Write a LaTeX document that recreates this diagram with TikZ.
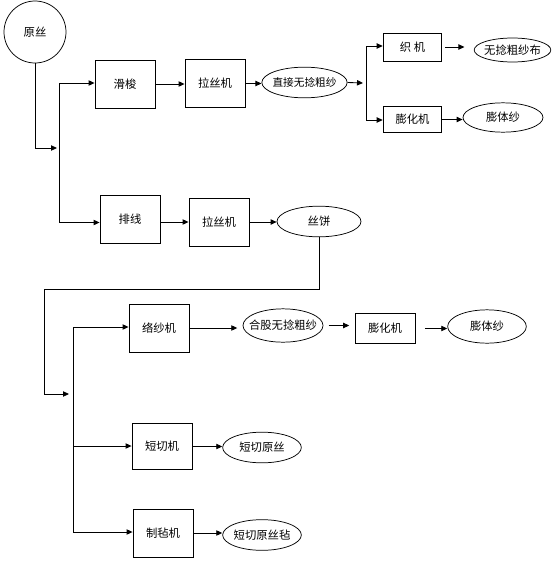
\documentclass[tikz,border=0pt]{standalone}
\usepackage{fontspec}
\setmainfont{Noto Sans CJK SC}
\usetikzlibrary{shapes.geometric,arrows.meta}

\newcommand{\ptext}[1]{\makebox[0pt]{#1}}

\tikzset{
  proc/.style={draw, line width=0.65pt, minimum width=45pt, minimum height=36pt, inner sep=0pt},
  prod/.style={draw, ellipse, line width=0.55pt, inner sep=0pt, minimum width=60pt, minimum height=24pt},
  flow/.style={line width=0.65pt, -{Triangle[length=4.5pt,width=4pt]}},
  link/.style={line width=0.65pt},
}

\begin{document}
\begin{tikzpicture}[x=0.75pt,y=0.75pt,yscale=-1,xscale=1, font=\fontsize{8.5pt}{10pt}\selectfont]
\useasboundingbox (0,0) rectangle (560,564);

%Shape: Circle
\node [draw, circle, line width=0.55pt, minimum size=46.5pt, inner sep=0pt] (yuansi) at (35,32) {原丝};

%Shape: Rectangle
\node [proc] (huasuo) at (125,84) {滑梭};
\node [proc] (lasi1) at (215,83.5) {拉丝机};
\node [proc, minimum width=44pt, minimum height=21pt] (zhiji) at (412.5,47) {织 机};
\node [proc, minimum width=44pt, minimum height=20pt] (penghua1) at (412.5,119.5) {膨化机};
\node [proc] (paixian) at (130,219.5) {排线};
\node [proc] (lasi2) at (219,222) {拉丝机};
\node [proc] (luosha) at (159,328) {络纱机};
\node [proc, minimum height=22pt] (penghua2) at (385,328.5) {膨化机};
\node [proc, minimum height=35pt] (duanqie) at (162,446.5) {短切机};
\node [proc] (zhizhan) at (163,533) {制毡机};

%Shape: Ellipse
\node [prod, minimum width=64pt, minimum height=23pt, font=\fontsize{8pt}{9pt}\selectfont] (zhijie) at (304.5,82.5) {\ptext{直接无捻粗纱}};
\node [prod, minimum width=57.5pt, minimum height=18pt] (bu) at (512.5,50) {\ptext{无捻粗纱布}};
\node [prod, minimum width=60pt, minimum height=22pt] (pengti1) at (503,117.5) {\ptext{膨体纱}};
\node [prod, minimum width=63pt, minimum height=23pt] (sibing) at (319,221.5) {丝饼};
\node [prod, minimum width=60pt, minimum height=25pt] (hegu) at (283,325.5) {\ptext{合股无捻粗纱}};
\node [prod, minimum width=59pt, minimum height=25pt] (pengti2) at (487,326.5) {\ptext{膨体纱}};
\node [prod, minimum width=59pt, minimum height=23pt] (dqys) at (262,447.5) {\ptext{短切原丝}};
\node [prod, minimum width=59pt, minimum height=23pt] (dqyz) at (262,535) {\ptext{短切原丝毡}};

%Branch points
\coordinate (j0) at (57,148);
\coordinate (b1) at (59,83);
\coordinate (b2) at (59,222.5);
\coordinate (c0) at (363,83);
\coordinate (c1) at (366,46);
\coordinate (c2) at (366,120);
\coordinate (s2) at (44,289);
\coordinate (s3) at (44,394);
\coordinate (j1) at (69,394);
\coordinate (d1) at (73,327);
\coordinate (d2) at (73,446);
\coordinate (d3) at (73,532);

%Straight Lines
\draw [flow] (yuansi.south) |- (j0);
\draw [link] (b1) -- (b2);
\draw [flow] (b1) -- (b1 -| huasuo.west);
\draw [flow] (b2) -- (b2 -| paixian.west);
\draw [flow] (huasuo.east) -- (huasuo.east -| lasi1.west);
\draw [flow] (lasi1.east) -- (lasi1.east -| zhijie.west);
\draw [flow] (zhijie.east) -- (c0);
\draw [link] (c1) -- (c2);
\draw [flow] (c1) -- (c1 -| zhiji.west);
\draw [flow] (c2) -- (c2 -| penghua1.west);
\draw [flow, shorten <=2pt, shorten >=7pt] (zhiji.east) -- (zhiji.east -| bu.west);
\draw [flow] (penghua1.east) -- (penghua1.east -| pengti1.west);

\draw [flow] (lasi2.west -| paixian.east) -- (lasi2.west);
\draw [flow] (lasi2.east) -- (lasi2.east -| sibing.west);
\draw [link] (sibing.south) |- (s2) -- (s3);
\draw [flow] (s3) -- (j1);

\draw [link] (d1) -- (d3);
\draw [flow] (d1) -- (d1 -| luosha.west);
\draw [flow] (d2) -- (d2 -| duanqie.west);
\draw [flow] (d3) -- (d3 -| zhizhan.west);
\draw [flow, shorten >=4pt] (luosha.east) -- (luosha.east -| hegu.west);
\draw [flow, shorten <=4pt, shorten >=4pt] (hegu.east) -- (hegu.east -| penghua2.west);
\draw [flow, shorten <=7pt] (penghua2.east) -- (penghua2.east -| pengti2.west);
\draw [flow] (duanqie.east) -- (duanqie.east -| dqys.west);
\draw [flow] (zhizhan.east) -- (zhizhan.east -| dqyz.west);
\end{tikzpicture}
\end{document}
